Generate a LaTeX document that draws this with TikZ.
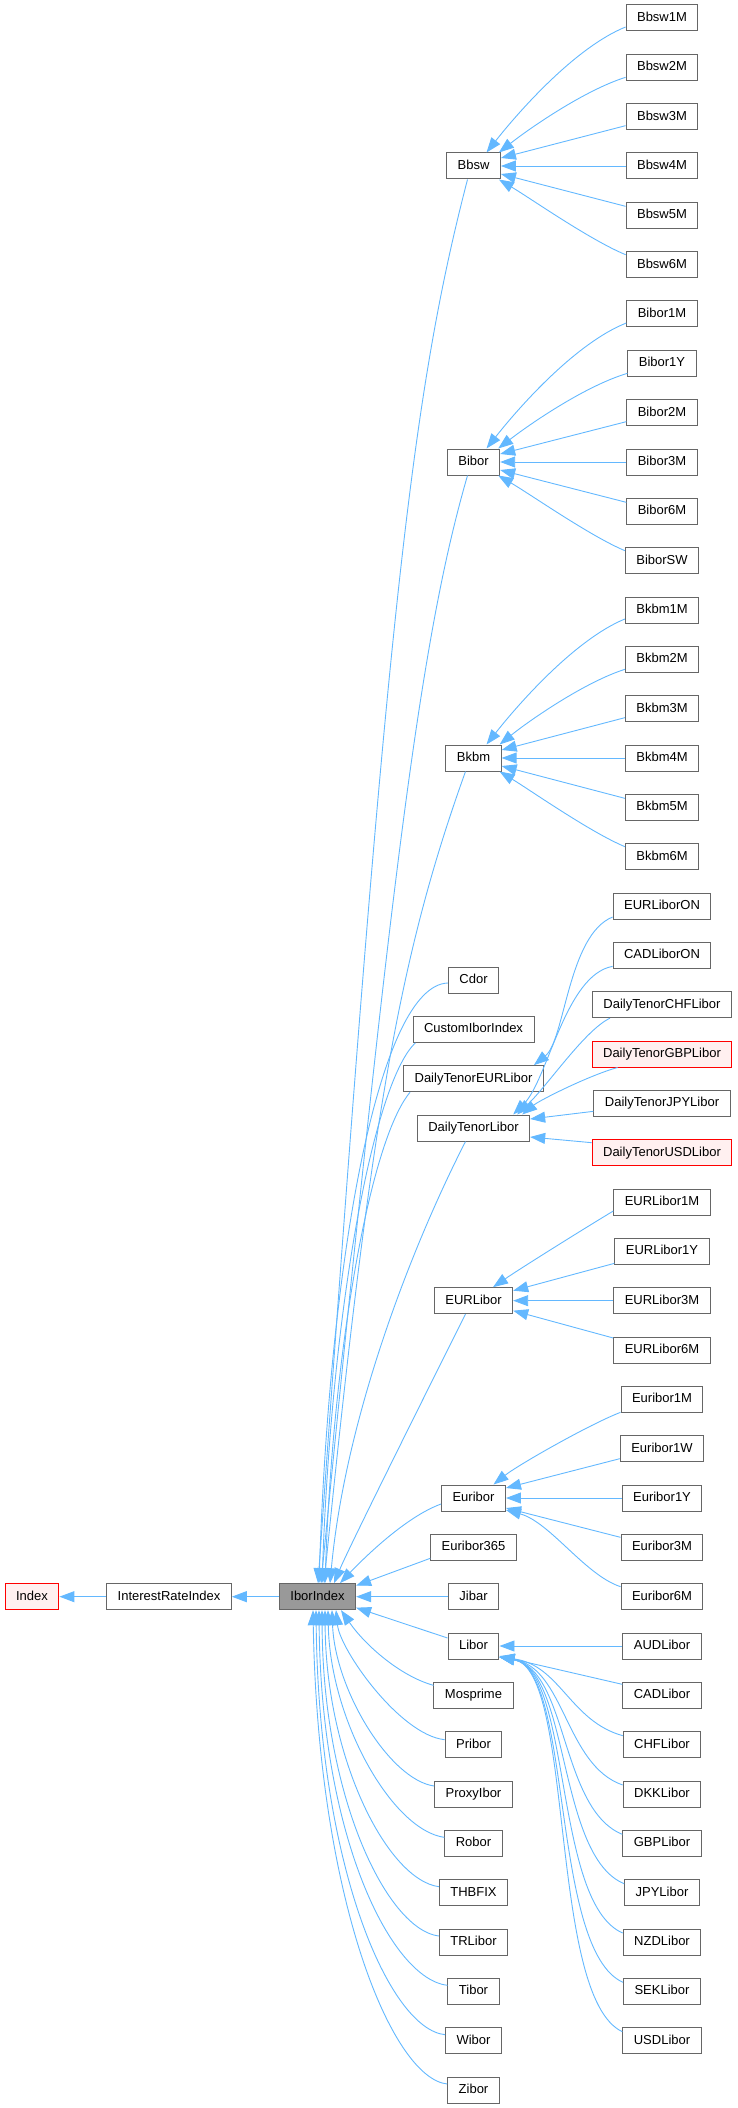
\documentclass[tikz,border=0pt]{standalone}
\usepackage{fontspec}
\setmainfont{Liberation Sans}
\usetikzlibrary{arrows.meta,calc}
\definecolor{edgecol}{HTML}{63B8FF}
\definecolor{boxline}{HTML}{666666}
\definecolor{redline}{HTML}{FF0000}
\definecolor{redfill}{HTML}{FFF0F0}
\definecolor{greyfill}{HTML}{999999}
\newcommand\sixfan[7]{%
\draw[inh] ([xshift=13pt]#1.north) .. controls ($(#1.center)+(46.5,-56)$) and ($(#1.center)+(102.5,-119)$) .. ([yshift=-9pt]#2.west);
\draw[inh] ([xshift=-2pt]#1.north east) .. controls ($(#1.center)+(56.5,-38)$) and ($(#1.center)+(111.5,-76)$) .. ([yshift=-10pt]#3.west);
\draw[inh] ([yshift=8pt]#1.east) -- ([yshift=-9pt]#4.west);
\draw[inh] (#1.east) -- (#5.west);
\draw[inh] ([yshift=-8pt]#1.east) -- ([yshift=9pt]#6.west);
\draw[inh] ([xshift=-2pt]#1.south east) .. controls ($(#1.center)+(56.5,32)$) and ($(#1.center)+(116.5,74)$) .. ([yshift=10pt]#7.west);}
\begin{document}
\begin{tikzpicture}[x=1pt,y=-1pt,
  box/.style={draw=boxline, line width=1pt, fill=white, minimum height=26pt,
    inner xsep=11pt, inner ysep=0pt, font=\fontsize{13}{15}\selectfont,
    text height=9.5pt, text depth=2.6pt, anchor=center},
  redbox/.style={box, draw=redline, fill=redfill},
  iborbox/.style={box, fill=greyfill},
  inh/.style={draw=edgecol, line width=0.9pt, arrows={Triangle[length=15pt,width=11pt]-}, fill=none}]
\useasboundingbox (0,0) rectangle (737,2108);
% left
\node[redbox] (index) at (32,1596.67) {Index};
\node[box] (iri) at (169,1596.67) {InterestRateIndex};
\node[iborbox] (ibor) at (317.5,1596.67) {IborIndex};
% middle column
\node[box] (bbsw) at (473.5,166) {Bbsw};
\node[box] (bibor) at (473.5,462) {Bibor};
\node[box] (bkbm) at (473.5,758) {Bkbm};
\node[box] (cdor) at (473.5,980) {Cdor};
\node[box] (custom) at (473.5,1029.33) {CustomIborIndex};
\node[box] (dteur) at (473.5,1078.67) {DailyTenorEURLibor};
\node[box] (dtl) at (473.5,1128) {DailyTenorLibor};
\node[box] (eurl) at (473.5,1300.67) {EURLibor};
\node[box] (eurib) at (473.5,1498) {Euribor};
\node[box] (e365) at (473.5,1547.33) {Euribor365};
\node[box] (jibar) at (473.5,1596.67) {Jibar};
\node[box] (lib) at (473.5,1646) {Libor};
\node[box] (mos) at (473.5,1695.33) {Mosprime};
\node[box] (pribor) at (473.5,1744.67) {Pribor};
\node[box] (proxy) at (473.5,1794) {ProxyIbor};
\node[box] (robor) at (473.5,1843.33) {Robor};
\node[box] (thbfix) at (473.5,1892.67) {THBFIX};
\node[box] (trlibor) at (473.5,1942) {TRLibor};
\node[box] (tibor) at (473.5,1991.33) {Tibor};
\node[box] (wibor) at (473.5,2040.67) {Wibor};
\node[box] (zibor) at (473.5,2090) {Zibor};
% right column
\node[box] (bbswa) at (662,18) {Bbsw1M};
\node[box] (bbswb) at (662,67.33) {Bbsw2M};
\node[box] (bbswc) at (662,116.67) {Bbsw3M};
\node[box] (bbswd) at (662,166) {Bbsw4M};
\node[box] (bbswe) at (662,215.33) {Bbsw5M};
\node[box] (bbswf) at (662,264.67) {Bbsw6M};
\node[box] (bibora) at (662,314) {Bibor1M};
\node[box] (biborb) at (662,363.33) {Bibor1Y};
\node[box] (biborc) at (662,412.67) {Bibor2M};
\node[box] (bibord) at (662,462) {Bibor3M};
\node[box] (bibore) at (662,511.33) {Bibor6M};
\node[box] (biborf) at (662,560.67) {BiborSW};
\node[box] (bkbma) at (662,610) {Bkbm1M};
\node[box] (bkbmb) at (662,659.33) {Bkbm2M};
\node[box] (bkbmc) at (662,708.67) {Bkbm3M};
\node[box] (bkbmd) at (662,758) {Bkbm4M};
\node[box] (bkbme) at (662,807.33) {Bkbm5M};
\node[box] (bkbmf) at (662,856.67) {Bkbm6M};
\node[box] (eurlon) at (662,906) {EURLiborON};
\node[box] (cadlon) at (662,955.33) {CADLiborON};
\node[box] (dtchf) at (662,1004.67) {DailyTenorCHFLibor};
\node[redbox] (dtgbp) at (662,1054) {DailyTenorGBPLibor};
\node[box] (dtjpy) at (662,1103.33) {DailyTenorJPYLibor};
\node[redbox] (dtusd) at (662,1152.67) {DailyTenorUSDLibor};
\node[box] (eurla) at (662,1202) {EURLibor1M};
\node[box] (eurlb) at (662,1251.33) {EURLibor1Y};
\node[box] (eurlc) at (662,1300.67) {EURLibor3M};
\node[box] (eurld) at (662,1350) {EURLibor6M};
\node[box] (euriba) at (662,1399.33) {Euribor1M};
\node[box] (euribb) at (662,1448.67) {Euribor1W};
\node[box] (euribc) at (662,1498) {Euribor1Y};
\node[box] (euribd) at (662,1547.33) {Euribor3M};
\node[box] (euribe) at (662,1596.67) {Euribor6M};
\node[box] (aud) at (662,1646) {AUDLibor};
\node[box] (cad) at (662,1695.33) {CADLibor};
\node[box] (chf) at (662,1744.67) {CHFLibor};
\node[box] (dkk) at (662,1794) {DKKLibor};
\node[box] (gbp) at (662,1843.33) {GBPLibor};
\node[box] (jpy) at (662,1892.67) {JPYLibor};
\node[box] (nzd) at (662,1942) {NZDLibor};
\node[box] (sek) at (662,1991.33) {SEKLibor};
\node[box] (usd) at (662,2040.67) {USDLibor};
% ---- edges
\draw[inh] (index.east) -- (iri.west);
\draw[inh] (iri.east) -- (ibor.west);
% ibor top
\draw[inh] ([xshift=0.5pt]ibor.north) .. controls (386,617) and (412,393) .. ([xshift=-6pt]bbsw.south);
\draw[inh] ([xshift=3.5pt]ibor.north) .. controls (393,850) and (423,629) .. ([xshift=-6pt]bibor.south);
\draw[inh] ([xshift=6.5pt]ibor.north) .. controls (371,1117) and (399.5,955) .. ([xshift=-8pt]bkbm.south);
\draw[inh] ([xshift=1.5pt]ibor.north) .. controls (330,1250) and (380,985) .. ([yshift=-3pt]cdor.west);
\draw[inh] ([xshift=4.5pt]ibor.north) .. controls (332,1300) and (375,1080) .. ([xshift=3pt]custom.south west);
\draw[inh] ([xshift=7.5pt]ibor.north) .. controls (333,1350) and (370,1140) .. ([xshift=7pt]dteur.south west);
\draw[inh] ([xshift=12.5pt]ibor.north) .. controls (345,1420) and (410,1250) .. ([xshift=-8pt]dtl.south);
\draw[inh] ([xshift=16.5pt]ibor.north) .. controls (350,1545) and (445,1355) .. ([xshift=-8pt]eurl.south);
\draw[inh] ([xshift=22.5pt]ibor.north) .. controls (362,1560) and (405,1517) .. ([yshift=-6pt]eurib.west);
% ibor side
\draw[inh] ([yshift=11pt]ibor.east) -- ([yshift=-11pt]e365.west);
\draw[inh] (ibor.east) -- (jibar.west);
\draw[inh] ([yshift=-11pt]ibor.east) -- ([yshift=8pt]lib.west);
% ibor bottom
\draw[inh] ([xshift=23.5pt]ibor.south) .. controls (365,1645) and (400,1676) .. ([yshift=10pt]mos.west);
\draw[inh] ([xshift=18.5pt]ibor.south) .. controls (340,1650) and (400,1735) .. ([yshift=5pt]pribor.west);
\draw[inh] ([xshift=14.5pt]ibor.south) .. controls (335,1690) and (390,1780) .. ([yshift=8pt]proxy.west);
\draw[inh] ([xshift=10.5pt]ibor.south) .. controls (330,1720) and (392,1830) .. ([yshift=6pt]robor.west);
\draw[inh] ([xshift=7.5pt]ibor.south) .. controls (326,1760) and (388,1880) .. ([yshift=6pt]thbfix.west);
\draw[inh] ([xshift=4.5pt]ibor.south) .. controls (323,1800) and (388,1930) .. ([yshift=6pt]trlibor.west);
\draw[inh] ([xshift=1.5pt]ibor.south) .. controls (321,1840) and (392,1979) .. ([yshift=6pt]tibor.west);
\draw[inh] ([xshift=-1.5pt]ibor.south) .. controls (319,1870) and (390,2029) .. ([yshift=6pt]wibor.west);
\draw[inh] ([xshift=-4.5pt]ibor.south) .. controls (318,1900) and (392,2078) .. ([yshift=6pt]zibor.west);
% six fans
\sixfan{bbsw}{bbswa}{bbswb}{bbswc}{bbswd}{bbswe}{bbswf}
\sixfan{bibor}{bibora}{biborb}{biborc}{bibord}{bibore}{biborf}
\sixfan{bkbm}{bkbma}{bkbmb}{bkbmc}{bkbmd}{bkbme}{bkbmf}
% daily tenor
\draw[inh] ([xshift=-10pt]dteur.north east) .. controls (565,1040) and (568,935) .. ([yshift=-11pt]eurlon.west);
\draw[inh] ([xshift=-17pt]dtl.north east) .. controls (548,1080) and (565,975) .. ([yshift=-11pt]cadlon.west);
\draw[inh] ([xshift=-13pt]dtl.north east) .. controls (548,1085) and (585,1030) .. ([xshift=18pt]dtchf.south west);
\draw[inh] ([xshift=-8pt]dtl.north east) .. controls (540,1100) and (590,1075) .. ([xshift=26pt]dtgbp.south west);
\draw[inh] ([yshift=9pt]dtl.east) -- ([yshift=-8pt]dtjpy.west);
\draw[inh] ([yshift=-9pt]dtl.east) -- ([yshift=10pt]dtusd.west);
% EURLibor
\draw[inh] ([xshift=19.5pt]eurl.north) .. controls (521,1268) and (585,1228) .. ([yshift=-9pt]eurla.west);
\draw[inh] ([yshift=10pt]eurl.east) -- ([yshift=-12pt]eurlb.west);
\draw[inh] (eurl.east) -- (eurlc.west);
\draw[inh] ([yshift=-10pt]eurl.east) -- ([yshift=12pt]eurld.west);
% Euribor
\draw[inh] ([xshift=20pt]eurib.north) .. controls (518,1465) and (590,1424) .. ([yshift=-13pt]euriba.west);
\draw[inh] ([yshift=10pt]eurib.east) -- ([yshift=-10pt]euribb.west);
\draw[inh] (eurib.east) -- (euribc.west);
\draw[inh] ([yshift=-10pt]eurib.east) -- ([yshift=10pt]euribd.west);
\draw[inh] ([yshift=-12pt]eurib.east) .. controls (550,1522) and (585,1575) .. ([yshift=10pt]euribe.west);
% Libor
\draw[inh] (lib.east) -- (aud.west);
\draw[inh] ([yshift=-10pt]lib.east) -- ([yshift=11pt]cad.west);
\draw[inh] ([yshift=-11pt]lib.east) .. controls (560,1665) and (570,1721) .. ([yshift=9pt]chf.west);
\draw[inh] ([yshift=-11pt]lib.east) .. controls (565,1668) and (565,1765) .. ([yshift=9pt]dkk.west);
\draw[inh] ([yshift=-11pt]lib.east) .. controls (568,1670) and (560,1809) .. ([yshift=9pt]gbp.west);
\draw[inh] ([yshift=-11pt]lib.east) .. controls (570,1670) and (557,1856) .. ([yshift=9pt]jpy.west);
\draw[inh] ([yshift=-11pt]lib.east) .. controls (572,1670) and (553,1903) .. ([yshift=9pt]nzd.west);
\draw[inh] ([yshift=-11pt]lib.east) .. controls (573,1670) and (550,1950) .. ([yshift=9pt]sek.west);
\draw[inh] ([yshift=-11pt]lib.east) .. controls (575,1670) and (548,1997) .. ([yshift=9pt]usd.west);
\end{tikzpicture}
\end{document}
